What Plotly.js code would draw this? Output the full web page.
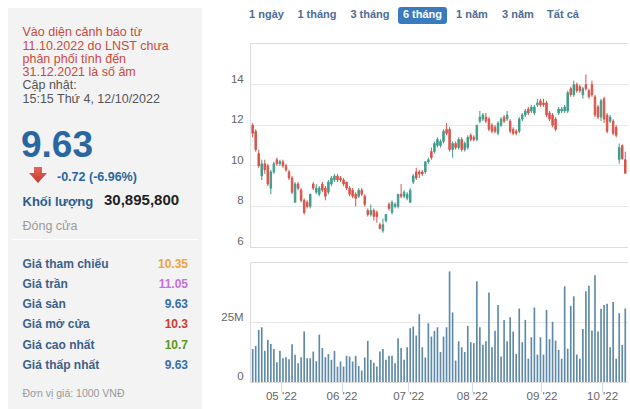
<!DOCTYPE html>
<html><head><meta charset="utf-8">
<script src="https://cdn.plot.ly/plotly-3.0.1.min.js"></script>
<style>
html,body{margin:0;padding:0;background:#fff;width:630px;height:409px;overflow:hidden;font-family:"Liberation Sans",Arial,sans-serif;}
#chart{position:absolute;left:0;top:0;width:630px;height:409px;}
#panel{position:absolute;left:8px;top:8px;width:194px;height:401px;background:#f3f3f3;}
.t{position:absolute;white-space:nowrap;line-height:1;}
.lbl{font-size:12px;font-weight:bold;color:#3d5f8a;left:22.5px;}
.val{font-size:12px;font-weight:bold;left:100px;width:88px;text-align:right;}
.btn{font-size:11px;font-weight:bold;color:#4b6d98;width:60px;text-align:center;top:9px;}
</style></head>
<body>
<div id="panel"></div>
<div class="t" style="left:22.5px;top:26.3px;font-size:12.5px;line-height:13.3px;color:#c94a3f;">Vào diện cảnh báo từ<br>11.10.2022 do LNST chưa<br>phân phối tính đến<br>31.12.2021 là số âm<br><span style="color:#555">Cập nhật:</span><br><span style="color:#555">15:15 Thứ 4, 12/10/2022</span></div>
<div class="t" style="left:21px;top:125.8px;font-size:37px;font-weight:bold;color:#2a67a0;">9.63</div>
<svg style="position:absolute;left:28px;top:166px" width="20" height="18"><defs><linearGradient id="g" x1="0" y1="0" x2="0" y2="1"><stop offset="0" stop-color="#e0675c"/><stop offset="1" stop-color="#c63a2e"/></linearGradient></defs><path d="M6 1 H14 V7 H19 L10 17 L1 7 H6 Z" fill="url(#g)"/></svg>
<div class="t" style="left:57px;top:171.1px;font-size:12.5px;font-weight:bold;color:#2a67a0;">-0.72 (-6.96%)</div>
<div class="t" style="left:22.5px;top:195px;font-size:13px;font-weight:bold;color:#2a5d90;">Khối lượng</div>
<div class="t" style="left:104px;top:191.8px;font-size:15px;font-weight:bold;color:#222;">30,895,800</div>
<div class="t" style="left:22.5px;top:220.4px;font-size:12.5px;color:#9a9a9a;">Đóng cửa</div>
<div style="position:absolute;left:12px;top:239px;width:186px;height:1px;background:#fff;"></div>
<div id="tbl"></div>
<div class="t" style="left:22.5px;top:387.8px;font-size:10.5px;color:#999;">Đơn vị giá: 1000 VNĐ</div>
<div style="position:absolute;left:398px;top:7px;width:49px;height:16.5px;background:#3a7bbf;border-radius:3px;"></div>
<div id="btns"></div>
<div id="chart"></div>
<script>
// ---- Left panel data ----
var infoLabels = ["Giá tham chiếu","Giá trần","Giá sàn","Giá mở cửa","Giá cao nhất","Giá thấp nhất"];
var infoValues = ["10.35","11.05","9.63","10.3","10.7","9.63"];
var infoColors = ["#f0a33a","#c86fe0","#3a6ea5","#cc3d2e","#5a9a1a","#3a6ea5"];
var periodLabels = ["1 ngày","1 tháng","3 tháng","6 tháng","1 năm","3 năm","Tất cả"];
var activePeriod = "6 tháng";

// ---- Chart data (trading-day index) ----
var monthStartIdx = [10,30,52,73,96,116];
var monthLabels = ["05 '22","06 '22","07 '22","08 '22","09 '22","10 '22"];
var openP = [12.0,11.7,10.6,9.5,10.1,10.0,8.9,9.7,10.3,10.1,
10.2,10.0,9.7,9.4,8.2,9.1,8.8,8.3,8.2,8.0,
9.1,8.7,8.6,9.1,8.9,8.7,9.1,9.3,9.5,9.4,
9.3,9.2,8.9,8.8,8.6,8.5,8.8,8.5,7.8,7.6,
7.8,7.7,7.1,6.8,7.3,8.1,7.7,8.0,8.0,8.6,
8.5,8.4,8.2,9.2,9.7,9.7,9.7,9.7,10.2,10.7,
10.7,11.0,11.0,11.2,11.8,11.8,10.8,11.1,10.9,11.3,
10.8,10.9,11.5,11.4,11.3,12.2,12.3,12.4,12.3,12.0,
11.9,11.6,12.0,12.4,12.3,12.2,11.8,11.7,11.7,12.3,
12.5,12.8,12.7,12.6,13.0,13.2,13.1,13.1,12.6,12.5,
12.3,12.6,12.7,12.7,12.7,13.8,13.5,14.0,13.9,13.5,
14.0,13.7,14.0,13.4,12.9,12.4,13.3,12.5,12.2,12.2,
11.9,10.3,11.0,10.3];
var highP = [12.1,11.8,10.8,10.3,10.3,10.1,9.8,10.2,10.4,10.3,
10.3,10.1,9.8,9.5,9.2,9.2,8.9,8.4,8.3,8.6,
9.2,9.1,9.0,9.2,9.0,9.3,9.5,9.6,9.6,9.5,
9.4,9.2,9.0,8.9,8.7,8.9,8.9,8.6,7.9,8.1,
7.9,7.8,7.2,7.4,7.6,8.2,8.3,8.2,8.6,9.1,
8.8,8.7,8.9,9.6,9.9,9.8,9.8,10.2,10.4,10.9,
11.2,11.4,11.3,11.8,12.1,11.9,11.2,11.2,11.4,11.4,
11.2,11.5,11.6,11.5,12.0,12.7,12.6,12.6,12.4,12.1,
12.0,12.2,12.4,12.5,12.7,12.3,11.9,11.8,12.4,12.6,
12.8,12.9,13.0,13.0,13.3,13.3,13.3,13.2,12.7,12.6,
12.4,12.9,12.9,13.0,13.7,13.9,14.2,14.1,14.0,13.9,
14.5,13.8,14.2,13.5,13.0,13.3,13.4,12.6,12.5,12.3,
12.0,11.1,11.05,10.7];
var lowP = [11.4,10.7,9.9,9.3,9.6,9.0,8.6,9.6,10.0,10.0,
9.9,9.7,9.3,8.6,8.2,8.8,8.2,7.6,7.9,7.9,
8.8,8.6,8.5,8.7,8.3,8.6,9.0,9.2,9.2,9.2,
9.0,8.8,8.5,8.4,8.0,8.4,8.5,8.0,7.5,7.5,
7.3,7.2,6.9,6.7,7.2,7.8,7.6,7.9,7.9,8.4,
8.4,8.3,8.2,9.1,9.3,9.4,9.5,9.6,10.1,10.3,
10.6,10.9,10.9,11.1,11.5,10.7,10.4,10.8,10.8,10.7,
10.7,10.8,11.2,11.2,11.2,12.1,12.2,12.1,11.7,11.6,
11.6,11.5,11.9,12.1,12.2,11.6,11.5,11.5,11.6,12.2,
12.4,12.5,12.6,12.5,12.9,12.9,12.9,12.4,12.2,11.9,
11.7,12.5,12.6,12.6,12.6,13.4,13.4,13.6,13.6,13.3,
13.7,13.3,13.4,12.4,12.3,12.2,12.1,11.6,12.1,11.5,
11.4,10.1,10.3,9.63];
var closeP = [11.6,10.8,10.0,10.1,9.8,9.1,9.7,10.1,10.1,10.2,
10.0,9.8,9.4,8.7,9.1,8.9,8.3,7.7,8.0,8.6,
8.9,8.9,8.9,8.8,8.5,9.2,9.4,9.5,9.3,9.3,
9.1,8.9,8.6,8.5,8.4,8.8,8.6,8.1,7.6,7.8,
7.5,7.5,6.9,7.1,7.6,7.9,8.2,8.1,8.6,8.5,
8.7,8.6,8.8,9.5,9.4,9.6,9.6,10.2,10.3,10.4,
11.1,11.3,11.2,11.7,11.6,10.8,11.1,10.9,11.3,10.8,
11.1,11.4,11.3,11.3,12.0,12.4,12.5,12.2,11.8,11.7,
11.7,12.1,12.3,12.2,12.5,11.7,11.6,11.6,12.3,12.5,
12.7,12.6,12.9,12.9,13.1,13.0,13.0,12.5,12.3,12.0,
11.8,12.8,12.8,12.9,13.6,13.5,14.0,13.7,13.7,13.8,
13.8,13.4,13.5,12.5,12.4,13.2,12.3,11.7,12.4,11.6,
11.5,10.9,10.35,9.63];
var volumeM = [13.9,15.2,21.9,23.0,13.1,17.7,16.0,13.9,8.3,13.1,
10.0,10.4,9.6,15.9,11.4,7.9,10.4,21.2,10.0,10.0,
12.8,8.7,19.9,14.3,10.4,11.7,9.3,13.1,6.5,8.6,
6.5,11.0,10.7,8.6,11.0,6.7,4.8,10.3,17.3,9.3,
8.1,6.5,12.8,13.9,9.3,11.0,11.0,7.9,18.4,14.3,
9.3,14.6,22.6,23.3,19.5,28.5,14.6,10.3,24.7,19.1,
21.5,23.0,12.6,19.1,23.0,46.5,29.2,9.0,17.1,14.6,
12.6,23.6,16.7,16.3,42.3,23.0,15.6,17.1,37.6,14.6,
21.5,32.4,10.7,26.1,17.1,27.2,21.2,11.8,30.9,16.7,
26.1,9.8,18.8,31.3,11.5,18.8,11.5,30.3,18.0,25.3,
17.4,13.5,9.8,40.2,14.0,32.0,36.0,11.5,9.8,22.3,
38.1,40.4,21.6,44.9,21.2,30.8,32.4,32.9,14.6,33.6,
9.8,28.9,15.6,30.9];
var priceTicks = [6,8,10,12,14];
var volTicks = [0,25];
var volTickText = ["0","25M"];

// ---- build left table & buttons ----
var tbl = document.getElementById('tbl');
infoLabels.forEach(function(l,i){
  var top = 268.3 + i*20.1 - 10.16;
  var a = document.createElement('div'); a.className='t lbl'; a.style.top=top+'px'; a.textContent=l; tbl.appendChild(a);
  var b = document.createElement('div'); b.className='t val'; b.style.top=top+'px'; b.style.color=infoColors[i]; b.textContent=infoValues[i]; tbl.appendChild(b);
});
var btnCenters = [266.5,317,370,422.5,472,518,563];
var btns = document.getElementById('btns');
periodLabels.forEach(function(l,i){
  var d = document.createElement('div'); d.className='t btn'; d.style.left=(btnCenters[i]-30)+'px';
  if(l===activePeriod) d.style.color='#fff';
  d.textContent=l; btns.appendChild(d);
});

// ---- chart ----
var idx = openP.map(function(_,i){return i;});
var vol = volumeM.map(function(v){return v*1e6;});
var traces = [
  {type:'candlestick', x:idx, open:openP, high:highP, low:lowP, close:closeP, xaxis:'x2', yaxis:'y',
   increasing:{line:{color:'#3f9d8b',width:1}, fillcolor:'#3f9d8b'},
   decreasing:{line:{color:'#d9544b',width:1}, fillcolor:'#d9544b'},
   whiskerwidth:0, hoverinfo:'skip'},
  {type:'bar', x:idx, y:vol, xaxis:'x', yaxis:'y2', marker:{color:'#5f8aa7', line:{width:0}}, hoverinfo:'skip'}
];
var dom = [251/630, 628/630];
var gridC = '#e8e8e8', lineC = '#dedede';
var tickFont = {family:'Liberation Sans, Arial, sans-serif', size:11.5, color:'#666'};
var layout = {
  width:630, height:409, margin:{l:0,r:0,t:0,b:0},
  paper_bgcolor:'rgba(0,0,0,0)', plot_bgcolor:'rgba(0,0,0,0)',
  showlegend:false, hovermode:false, boxgap:0.3, bargap:0.45,
  font:tickFont,
  xaxis:{domain:dom, anchor:'y2', range:[-0.55,123.9], tickmode:'array',
    tickvals:monthStartIdx.map(function(v){return v-0.5;}), ticktext:monthLabels,
    ticks:'outside', ticklen:9, tickcolor:'#d4dbe6', showgrid:false, showline:true, mirror:true,
    linecolor:lineC, zeroline:false, tickfont:tickFont, ticklabelstandoff:-6, rangeslider:{visible:false}},
  xaxis2:{domain:dom, anchor:'y', matches:'x', showticklabels:false, ticks:'', showgrid:false,
    showline:true, mirror:true, linecolor:lineC, zeroline:false, rangeslider:{visible:false}},
  yaxis:{domain:[162/409, 365/409], range:[6,16], tickmode:'array', tickvals:priceTicks,
    gridcolor:gridC, showline:true, linecolor:lineC, ticks:'', zeroline:false,
    ticklabelshift:-6, ticklabelstandoff:4, tickfont:tickFont},
  yaxis2:{domain:[27/409, 146/409], range:[0,50e6], tickmode:'array',
    tickvals:volTicks.map(function(v){return v*1e6;}), ticktext:volTickText,
    gridcolor:gridC, showline:true, linecolor:lineC, ticks:'', zeroline:false,
    ticklabelshift:-6, ticklabelstandoff:4, tickfont:tickFont}
};
Plotly.newPlot('chart', traces, layout, {staticPlot:true, displayModeBar:false});
</script>
</body></html>
